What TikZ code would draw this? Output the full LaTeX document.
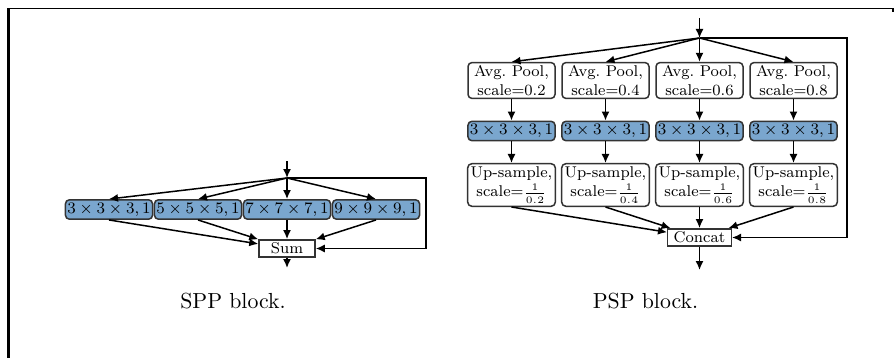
\documentclass[tikz,border=0pt]{standalone}
\usetikzlibrary{calc, arrows.meta}
\definecolor{convblue}{RGB}{122,166,206}

\begin{document}
\begin{tikzpicture}[>={Latex[length=4.5pt,width=4pt]}, x=0.5pt, y=-0.5pt,
  line width=0.75pt, font=\fontsize{7.8}{9.2}\selectfont]

  % Styles for the blocks
  \tikzset{
    conv/.style={draw=black!80, fill=convblue, rounded corners=2pt,
      inner xsep=1pt, inner ysep=1.5pt},
    pspconv/.style={conv, minimum width=43.5pt},
    op/.style={draw=black!80, fill=white, rounded corners=2pt, align=center,
      inner sep=1.5pt, minimum width=43.5pt},
    merge/.style={draw=black!80, fill=white, inner xsep=3pt, inner ysep=1.5pt,
      minimum width=28pt},
    caption/.style={font=\fontsize{10.9}{13}\selectfont, anchor=base}
  }

  \useasboundingbox (0,0) rectangle (894,358);

  % Frame
  \draw[line width=0.8pt] (8.5,8.5) -- (893,8.5) -- (893,12);
  \draw[line width=1.3pt] (8.5,358) -- (8.5,8);

  % ---------------- SPP block ----------------
  \coordinate (sppin) at (287,161);
  \coordinate (sppsplit) at (287,178);
  \coordinate (sppskip) at (426,178);
  \coordinate (sppout) at (287,268);

  \node[conv] (k3) at (109,209.5) {$3\times3\times3, 1$};
  \node[conv] (k5) at (198,209.5) {$5\times5\times5, 1$};
  \node[conv] (k7) at (287,209.5) {$7\times7\times7, 1$};
  \node[conv] (k9) at (376,209.5) {$9\times9\times9, 1$};
  \node[merge] (sum) at (287,248.5) {Sum};

  \draw[->] (sppin) -- (sppsplit);
  \draw[->] (sppsplit) -- (k3.north);
  \draw[->] (sppsplit) -- (k5.north);
  \draw[->] (sppsplit) -- (k7.north);
  \draw[->] (sppsplit) -- (k9.north);
  \draw[->] (k3.south) -- (sum);
  \draw[->] (k5.south) -- (sum);
  \draw[->] (k7.south) -- (sum);
  \draw[->] (k9.south) -- (sum);
  \draw[->] (sppsplit) -- (sppskip) |- (sum.east);
  \draw[->] (sum.south) -- (sppout);

  \node[caption] (sppcap) at (233,308) {SPP block.};

  % ---------------- PSP block ----------------
  \coordinate (pspin) at (699.5,18);
  \coordinate (pspsplit) at (699.5,38);
  \coordinate (pspskip) at (847,38);
  \coordinate (pspout) at (699.5,270);

  \node[op] (pool2) at (511.5,80.5) {Avg.\ Pool,\\scale=0.2};
  \node[op] (pool4) at (605.5,80.5) {Avg.\ Pool,\\scale=0.4};
  \node[op] (pool6) at (699.5,80.5) {Avg.\ Pool,\\scale=0.6};
  \node[op] (pool8) at (793.5,80.5) {Avg.\ Pool,\\scale=0.8};

  \node[pspconv] (conv2) at (511.5,131) {$3\times3\times3,1$};
  \node[pspconv] (conv4) at (605.5,131) {$3\times3\times3,1$};
  \node[pspconv] (conv6) at (699.5,131) {$3\times3\times3,1$};
  \node[pspconv] (conv8) at (793.5,131) {$3\times3\times3,1$};

  \node[op] (up2) at (511.5,185) {Up-sample,\\[0.5pt]scale=$\frac{1}{0.2}$};
  \node[op] (up4) at (605.5,185) {Up-sample,\\[0.5pt]scale=$\frac{1}{0.4}$};
  \node[op] (up6) at (699.5,185) {Up-sample,\\[0.5pt]scale=$\frac{1}{0.6}$};
  \node[op] (up8) at (793.5,185) {Up-sample,\\[0.5pt]scale=$\frac{1}{0.8}$};

  \node[merge] (concat) at (699.5,237.5) {Concat};

  \draw[->] (pspin) -- (pspsplit);
  \draw[->] (pspsplit) -- (pool2.north);
  \draw[->] (pspsplit) -- (pool4.north);
  \draw[->] (pspsplit) -- (pool6.north);
  \draw[->] (pspsplit) -- (pool8.north);

  \draw[->] (pool2) -- (conv2);
  \draw[->] (pool4) -- (conv4);
  \draw[->] (pool6) -- (conv6);
  \draw[->] (pool8) -- (conv8);
  \draw[->] (conv2) -- (up2);
  \draw[->] (conv4) -- (up4);
  \draw[->] (conv6) -- (up6);
  \draw[->] (conv8) -- (up8);

  \draw[->] (up2.south) -- (concat);
  \draw[->] (up4.south) -- (concat);
  \draw[->] (up6.south) -- (concat);
  \draw[->] (up8.south) -- (concat);
  \draw[->] (pspsplit) -- (pspskip) |- (concat.east);
  \draw[->] (concat.south) -- (pspout);

  \node[caption] (pspcap) at (645.5,308) {PSP block.};

\end{tikzpicture}
\end{document}
